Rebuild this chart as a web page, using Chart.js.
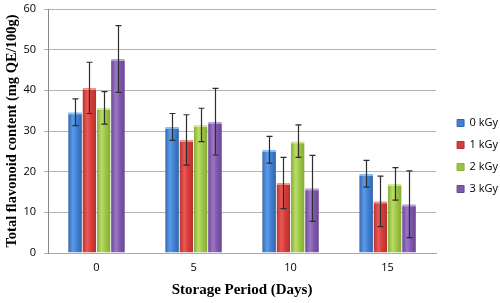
<!DOCTYPE html>
<html>
<head>
<meta charset="utf-8">
<script src="https://cdn.jsdelivr.net/npm/chart.js@4.4.0/dist/chart.umd.min.js"></script>
<style>
  html, body { margin: 0; padding: 0; background: #fff; }
  #wrap { width: 500px; height: 303px; }
</style>
</head>
<body>
<div id="wrap"><canvas id="flavChart"></canvas></div>
<script>
const days = ['0', '5', '10', '15']
const doses = ['0 kGy', '1 kGy', '2 kGy', '3 kGy']

const kGy0 = [34.6, 31.0, 25.4, 19.5]
const kGy1 = [40.6, 27.8, 17.2, 12.7]
const kGy2 = [35.7, 31.5, 27.5, 17.0]
const kGy3 = [47.7, 32.3, 15.9, 12.0]

const err0 = [3.3, 3.3, 3.3, 3.3]
const err1 = [6.3, 6.2, 6.3, 6.2]
const err2 = [4.0, 4.1, 4.0, 4.0]
const err3 = [8.2, 8.2, 8.1, 8.2]

// edge, light streak, mid, edge
const shades = [
    ['#3567ad', '#5c9be6', '#3f80d3', '#3464a8'],
    ['#b43331', '#eb5853', '#d63b39', '#b13130'],
    ['#86ad36', '#b9dc69', '#9cc443', '#84aa35'],
    ['#6a4793', '#9b77c6', '#7f58ac', '#68458f']
]
const topColors = ['#8fbcf0', '#f49490', '#d3ec98', '#bba0dc']

function barFill(ctx) {
    const s = shades[ctx.datasetIndex]
    const meta = ctx.chart.getDatasetMeta(ctx.datasetIndex)
    const el = meta.data[ctx.dataIndex]
    if (!el || !el.width) return s[2]
    const x0 = el.x - el.width / 2
    const g = ctx.chart.ctx.createLinearGradient(x0, 0, x0 + el.width, 0)
    g.addColorStop(0, s[0])
    g.addColorStop(0.35, s[1])
    g.addColorStop(0.65, s[2])
    g.addColorStop(1, s[3])
    return g
}

const values = [kGy0, kGy1, kGy2, kGy3]
const errors = [err0, err1, err2, err3]

const errorBars = {
    id: 'errorBars',
    afterDatasetsDraw(chart) {
        const c = chart.ctx
        const y = chart.scales.y
        c.save()
        c.strokeStyle = '#2e2e2e'
        c.lineWidth = 1.2
        chart.data.datasets.forEach((ds, i) => {
            chart.getDatasetMeta(i).data.forEach((el, j) => {
                const v = ds.data[j], e = errors[i][j]
                const yt = y.getPixelForValue(v + e)
                const yb = y.getPixelForValue(v - e)
                const x = Math.round(el.x) + 0.5
                c.beginPath()
                c.moveTo(x, yt); c.lineTo(x, yb)
                c.moveTo(x - 3, yt); c.lineTo(x + 3, yt)
                c.moveTo(x - 3, yb); c.lineTo(x + 3, yb)
                c.stroke()
            })
        })
        c.restore()
    }
}

// nudge the legend a bit further from the plot, like the original
const legendShift = {
    id: 'legendShift',
    afterLayout(chart) {
        const lg = chart.legend
        if (!lg) return
        lg.left += 10
        lg.right += 10
    }
}

const tickFont = { family: '"Open Sans", "Liberation Sans", sans-serif', size: 11 }
const titleFont = { family: '"Liberation Serif", "Times New Roman", serif', size: 14.5, weight: 'bold' }

const data = {
    labels: days,
    datasets: doses.map((d, i) => ({
        label: d,
        data: values[i],
        backgroundColor: barFill,
        borderColor: topColors[i],
        borderWidth: { top: 2, left: 0, right: 0, bottom: 0 },
        borderSkipped: 'bottom',
        categoryPercentage: 0.59,
        barPercentage: 0.96
    }))
}

const config = {
    type: 'bar',
    data: data,
    options: {
        responsive: true,
        maintainAspectRatio: false,
        animation: false,
        layout: { padding: { top: 9, right: 2 } },
        plugins: {
            tooltip: { enabled: false },
            legend: {
                position: 'right',
                labels: {
                    boxWidth: 7,
                    boxHeight: 7,
                    padding: 11,
                    color: '#000',
                    font: { family: '"Open Sans", "Liberation Sans", sans-serif', size: 11 },
                    generateLabels(chart) {
                        return doses.map((d, i) => ({
                            text: d,
                            fillStyle: shades[i][2],
                            strokeStyle: shades[i][0],
                            lineWidth: 1,
                            datasetIndex: i
                        }))
                    }
                }
            }
        },
        scales: {
            x: {
                grid: { display: false },
                border: { color: '#aaa' },
                ticks: { color: '#000', font: tickFont, padding: 0 },
                title: { display: true, text: 'Storage Period (Days)', color: '#000', font: { ...titleFont, size: 15 }, padding: { top: 7 } },
                afterFit(scale) { scale.height = 50 }
            },
            y: {
                min: 0,
                max: 60,
                ticks: { stepSize: 10, color: '#000', font: tickFont, padding: 8 },
                grid: { color: '#b3b3b3', lineWidth: 1, tickLength: 4 },
                border: { color: '#888' },
                title: { display: true, text: 'Total flavonoid content (mg QE/100g)', color: '#000', font: titleFont, padding: { bottom: 0 } },
                afterFit(scale) {
                    scale.width = 48
                    scale.paddingTop = 0
                }
            }
        }
    },
    plugins: [errorBars, legendShift]
}

const flavChart = new Chart(document.getElementById('flavChart'), config)
flavChart.update()
</script>
</body>
</html>
